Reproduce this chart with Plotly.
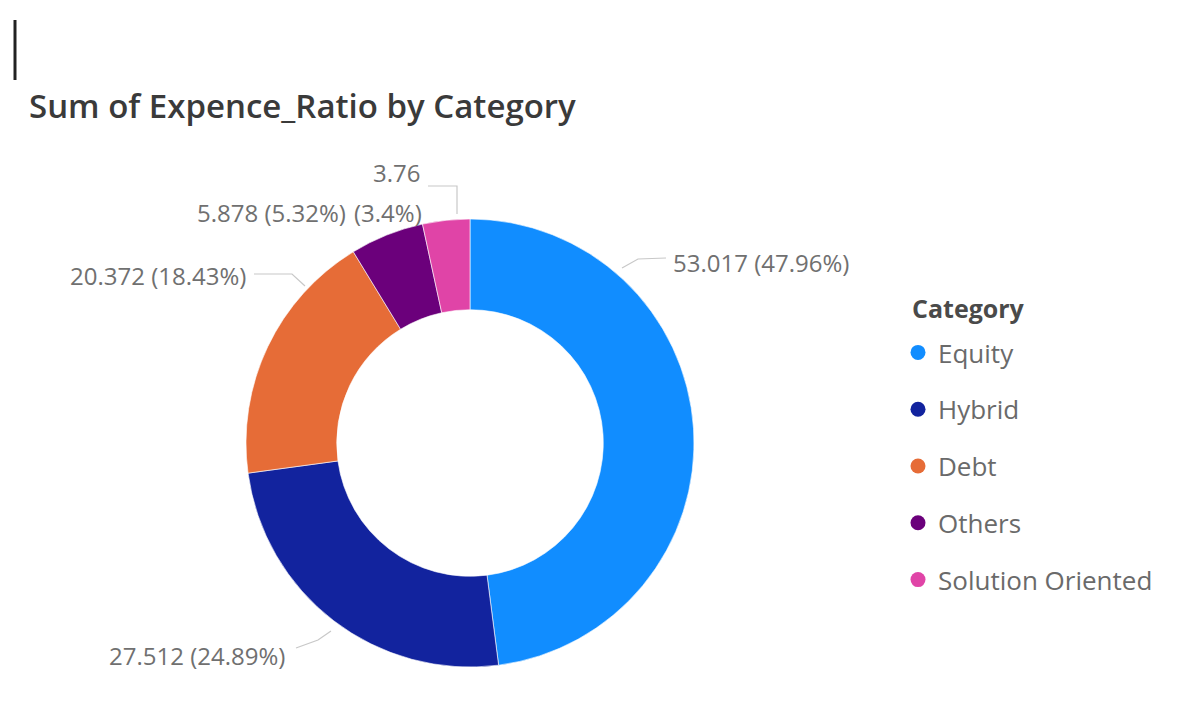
import plotly.graph_objects as go

categories = ["Equity", "Hybrid", "Debt", "Others", "Solution Oriented"]
values = [53.017, 27.512, 20.372, 5.878, 3.76]
colors = ["#118DFF", "#12239E", "#E66C37", "#6B007B", "#E044A7"]
pct_labels = ["47.96%", "24.89%", "18.43%", "5.32%", "3.4%"]

W, H = 1177, 708


def px(x):
    return x / W


def py(y):
    return 1 - y / H


fig = go.Figure()

fig.add_trace(go.Pie(
    labels=categories,
    values=values,
    sort=False,
    direction="clockwise",
    rotation=0,
    hole=0.595,
    marker=dict(colors=colors, line=dict(color="rgba(255,255,255,0.6)", width=1)),
    textinfo="none",
    hoverinfo="label+value+percent",
    showlegend=False,
    domain=dict(x=[px(246), px(694)], y=[py(669), py(217)]),
))

# legend entries with round markers
for i, (c, col) in enumerate(zip(categories, colors)):
    fig.add_trace(go.Scatter(
        x=[None], y=[None], mode="markers", name=c,
        marker=dict(symbol="circle", size=15, color=col),
        legendgroup=c, showlegend=True,
    ))

FONT = "Open Sans, DejaVu Sans, sans-serif"
label_font = dict(family=FONT, size=24, color="#707070")
lab = {c: f"{v:g} ({p})" for c, v, p in zip(categories, values, pct_labels)}

annotations = [
    dict(text="Sum of Expence_Ratio by Category", x=px(27), y=py(105), xref="paper", yref="paper",
         xanchor="left", yanchor="middle", showarrow=False,
         font=dict(family=FONT, size=33, color="#3a3a3a", weight=600)),
    dict(text="<b>Category</b>", x=px(910), y=py(308), xref="paper", yref="paper",
         xanchor="left", yanchor="middle", showarrow=False,
         font=dict(family=FONT, size=25, color="#4a4a4a")),
    dict(text=lab["Equity"], x=px(671), y=py(262), xanchor="left", yanchor="middle"),
    dict(text=lab["Hybrid"], x=px(287), y=py(655), xanchor="right", yanchor="middle"),
    dict(text=lab["Debt"], x=px(248), y=py(275), xanchor="right", yanchor="middle"),
    dict(text=lab["Others"], x=px(348), y=py(213), xanchor="right", yanchor="middle"),
    dict(text=f"{values[4]:g}", x=px(422), y=py(172), xanchor="right", yanchor="middle"),
    dict(text=f"({pct_labels[4]})", x=px(424), y=py(213), xanchor="right", yanchor="middle"),
]
for a in annotations[2:]:
    a.update(xref="paper", yref="paper", showarrow=False, font=label_font)

line_style = dict(color="#c8c8c8", width=1.2)
paths = [
    [(622, 268), (638, 259), (666, 258)],
    [(296, 648), (318, 640), (331, 631)],
    [(254, 274), (292, 274), (305, 286)],
    [(428, 186), (457, 186), (457, 214)],
]
shapes = []
for p in paths:
    d = "M " + " L ".join(f"{px(x)},{py(y)}" for x, y in p)
    shapes.append(dict(type="path", path=d, xref="paper", yref="paper", line=line_style))

# cursor-like vertical bar at top left
shapes.append(dict(type="line", x0=px(15), x1=px(15), y0=py(20), y1=py(80), xref="paper", yref="paper",
                   line=dict(color="#222222", width=3)))

fig.update_layout(
    width=W, height=H,
    margin=dict(l=0, r=0, t=0, b=0),
    paper_bgcolor="white", plot_bgcolor="white",
    xaxis=dict(visible=False), yaxis=dict(visible=False),
    annotations=annotations,
    shapes=shapes,
    legend=dict(
        font=dict(family=FONT, size=26, color="#6a6a6a"),
        x=px(898), y=py(329), xanchor="left", yanchor="top",
        tracegroupgap=20, itemwidth=30,
        bgcolor="rgba(0,0,0,0)",
    ),
)

fig.write_html("out.html")
